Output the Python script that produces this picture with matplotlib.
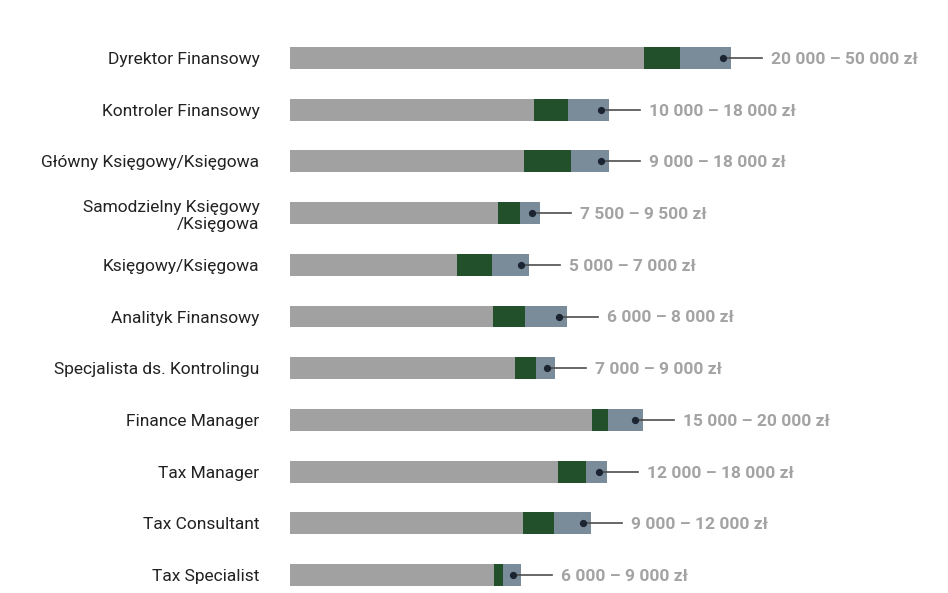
import matplotlib
matplotlib.use('Agg')
import matplotlib.pyplot as plt

# Stanowiska i widełki wynagrodzeń
positions = [
    'Dyrektor Finansowy',
    'Kontroler Finansowy',
    'Główny Księgowy/Księgowa',
    'Samodzielny Księgowy\n/Księgowa',
    'Księgowy/Księgowa',
    'Analityk Finansowy',
    'Specjalista ds. Kontrolingu',
    'Finance Manager',
    'Tax Manager',
    'Tax Consultant',
    'Tax Specialist',
]
ranges = [
    '20 000 – 50 000 zł',
    '10 000 – 18 000 zł',
    '9 000 – 18 000 zł',
    '7 500 – 9 500 zł',
    '5 000 – 7 000 zł',
    '6 000 – 8 000 zł',
    '7 000 – 9 000 zł',
    '15 000 – 20 000 zł',
    '12 000 – 18 000 zł',
    '9 000 – 12 000 zł',
    '6 000 – 9 000 zł',
]

# bar segment lengths (arbitrary units)
base_part = [354, 244, 234, 208, 167, 203, 225, 302, 268, 233, 204]
green_part = [36, 34, 47, 22, 35, 32, 21, 16, 28, 31, 9]
blue_part = [51, 41, 38, 20, 37, 42, 19, 35, 21, 37, 18]

GRAY = '#a2a1a2'
GREEN = '#21502a'
BLUE = '#7a8c99'
LINE = '#4d4d4d'
DOT = '#1b2430'
VALUE = '#a3a3a3'

plt.rcParams['font.family'] = ['Roboto', 'DejaVu Sans']

fig = plt.figure(figsize=(9.48, 5.93), dpi=100)
ax = fig.add_axes([290 / 948, 0, 650 / 948, 1])

y = list(range(len(positions)))
green_left = [b for b in base_part]
blue_left = [b + g for b, g in zip(base_part, green_part)]
totals = [b + g + u for b, g, u in zip(base_part, green_part, blue_part)]

h = 0.425
ax.barh(y, base_part, height=h, color=GRAY, linewidth=0)
ax.barh(y, green_part, left=green_left, height=h, color=GREEN, linewidth=0)
ax.barh(y, blue_part, left=blue_left, height=h, color=BLUE, linewidth=0)

for yi, t, lab in zip(y, totals, ranges):
    ax.plot([t - 8, t + 31], [yi, yi], color=LINE, linewidth=1.2, zorder=3)
    ax.plot([t - 8], [yi], marker='o', markersize=4.2, color=DOT, zorder=4)
    ax.text(t + 40, yi, lab, va='center_baseline', ha='left', fontsize=12.5,
            fontweight='bold', color=VALUE)

ax.set_xlim(0, 650)
ax.set_ylim((593 - 58) / 51.7, -58 / 51.7)
ax.set_yticks(y)
ax.set_yticklabels(positions, fontsize=12.5, color='#222222', linespacing=1.2)
for lbl in ax.get_yticklabels():
    lbl.set_multialignment('right')
ax.tick_params(axis='y', length=0, pad=22)
ax.set_xticks([])
for s in ax.spines.values():
    s.set_visible(False)

fig.savefig('out.png', dpi=100, facecolor='white')
